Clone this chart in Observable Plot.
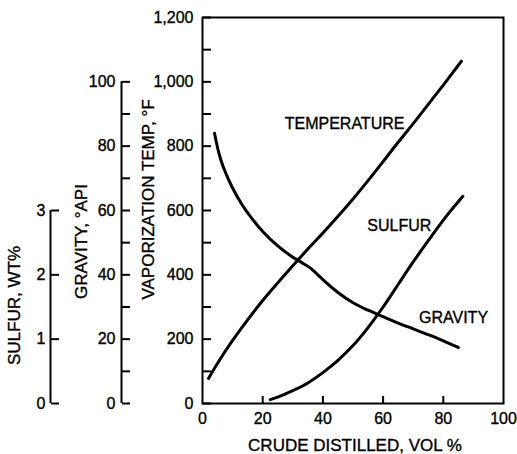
<!DOCTYPE html>
<html>
<head>
<meta charset="utf-8">
<script src="https://cdn.jsdelivr.net/npm/d3@7"></script>
<script src="https://cdn.jsdelivr.net/npm/@observablehq/plot@0.6"></script>
<style>
  html, body { margin: 0; padding: 0; background: #fff; }
  #chart svg { display: block; }
  #chart svg text { stroke: #000; stroke-width: 0.35px; }
</style>
</head>
<body>
<div id="chart"></div>
<script>
// ---- Axis ticks ----
const crudeTicks = [0, 20, 40, 60, 80, 100];
const crudeInnerTicks = [20, 40, 60, 80];
const tempTicks = [0, 200, 400, 600, 800, 1000, 1200];
const tempMinorTicks = [0, 100, 200, 300, 400, 500, 600, 700, 800, 900, 1000, 1100, 1200];
const gravityTicks = [0, 20, 40, 60, 80, 100];
const gravityMinorTicks = [0, 10, 20, 30, 40, 50, 60, 70, 80, 90, 100];
const sulfurTicks = [0, 1, 2, 3];

// ---- Series ----
const tempX = [2, 5, 10, 15, 20, 25, 30, 35, 40, 45, 50, 55, 60, 65, 70, 75, 80, 86];
const tempF = [78, 125, 196, 260, 320, 375, 428, 480, 530, 582, 636, 693, 752, 812, 870, 930, 990, 1064];

const gravityX = [4, 5, 6, 8, 10, 13, 16, 20, 25, 30, 33, 36, 38, 40, 45, 50, 55, 60, 65, 70, 75, 80, 85];
const gravityAPI = [84, 79.5, 76, 71, 67, 62, 58, 53.5, 49, 45.5, 43.8, 42, 40.3, 38.5, 34.5, 31.3, 29, 27, 25, 23.2, 21.4, 19.5, 17.4];

const sulfurX = [22.5, 25, 30, 35, 40, 45, 50, 55, 60, 65, 70, 75, 80, 86.5];
const sulfurWt = [0.06, 0.1, 0.2, 0.32, 0.48, 0.67, 0.9, 1.18, 1.5, 1.85, 2.2, 2.53, 2.85, 3.22];

// ---- Curve labels ----
const curveLabels = ["TEMPERATURE", "SULFUR", "GRAVITY"];
const curveLabelX = [47.2, 65.4, 83.4];
const curveLabelTemp = [870, 553, 267];

// ---- Scale relations between the stacked left axes ----
const gravityToF = 10;   // 100 °API sits at 1,000 °F
const sulfurToF = 200;   // 3 wt% sits at 600 °F

const toRows = (xs, ys, k) => xs.map((x, i) => ({x, y: ys[i] * k}));

const font = "'Liberation Sans', Arial, Helvetica, sans-serif";
const W = 517, H = 454;
const mL = 202, mR = 14, mT = 17, mB = 51;
const frameW = W - mL - mR;
const frameH = H - mT - mB;
const gravityDx = -81;
const sulfurDx = -152;

const chart = Plot.plot({
  width: W,
  height: H,
  marginLeft: mL,
  marginRight: mR,
  marginTop: mT,
  marginBottom: mB,
  style: {fontFamily: font, fontSize: "16px", background: "#fff", color: "#000"},
  x: {domain: [0, 100]},
  y: {domain: [0, 1200]},
  marks: [
    Plot.frame({strokeWidth: 2}),
    // x axis labels
    Plot.axisX(crudeTicks, {anchor: "bottom", tickSize: 0, tickPadding: 9, label: null, fontSize: 16}),
    // x inner ticks (upward from bottom)
    Plot.axisX(crudeInnerTicks, {anchor: "top", dy: frameH, tickSize: 8, strokeWidth: 2, fill: "none", label: null}),
    // temperature axis
    Plot.axisY(tempTicks, {anchor: "left", tickSize: 0, tickPadding: 9, tickFormat: d3.format(","), label: null, fontSize: 16}),
    Plot.axisY(tempMinorTicks, {anchor: "right", dx: -frameW, tickSize: 8, strokeWidth: 2, fill: "none", label: null}),
    // gravity axis
    Plot.ruleX([0], {y1: gravityTicks[0] * gravityToF, y2: gravityTicks[gravityTicks.length - 1] * gravityToF, dx: gravityDx, strokeWidth: 2}),
    Plot.axisY(gravityTicks.map(d => d * gravityToF), {anchor: "left", dx: gravityDx, tickSize: 0, tickPadding: 6, tickFormat: d => d / gravityToF, label: null, fontSize: 16}),
    Plot.axisY(gravityMinorTicks.map(d => d * gravityToF), {anchor: "right", dx: gravityDx - frameW, tickSize: 8, strokeWidth: 2, fill: "none", label: null}),
    // sulfur axis
    Plot.ruleX([0], {y1: sulfurTicks[0] * sulfurToF, y2: sulfurTicks[sulfurTicks.length - 1] * sulfurToF, dx: sulfurDx, strokeWidth: 2}),
    Plot.axisY(sulfurTicks.map(d => d * sulfurToF), {anchor: "left", dx: sulfurDx, tickSize: 0, tickPadding: 5, tickFormat: d => d / sulfurToF, label: null, fontSize: 16}),
    Plot.axisY(sulfurTicks.map(d => d * sulfurToF), {anchor: "right", dx: sulfurDx - frameW, tickSize: 8, strokeWidth: 2, fill: "none", label: null}),
    // axis titles
    Plot.text(["VAPORIZATION TEMP, °F"], {frameAnchor: "left", rotate: -90, dx: -54, dy: -11, textAnchor: "middle", lineAnchor: "middle", fontSize: 17}),
    Plot.text(["GRAVITY, °API"], {frameAnchor: "left", rotate: -90, dx: -121, dy: 31, textAnchor: "middle", lineAnchor: "middle", fontSize: 17}),
    Plot.text(["SULFUR, WT%"], {frameAnchor: "left", rotate: -90, dx: -188, dy: 95, textAnchor: "middle", lineAnchor: "middle", fontSize: 17}),
    Plot.text(["CRUDE DISTILLED, VOL %"], {frameAnchor: "bottom", dx: 2, dy: 42, textAnchor: "middle", lineAnchor: "middle", fontSize: 17}),
    // curves
    Plot.line(toRows(tempX, tempF, 1), {x: "x", y: "y", curve: "monotone-x", stroke: "#000", strokeWidth: 3}),
    Plot.line(toRows(gravityX, gravityAPI, gravityToF), {x: "x", y: "y", curve: "monotone-x", stroke: "#000", strokeWidth: 3}),
    Plot.line(toRows(sulfurX, sulfurWt, sulfurToF), {x: "x", y: "y", curve: "monotone-x", stroke: "#000", strokeWidth: 3}),
    // curve labels
    Plot.text(curveLabels, {x: curveLabelX, y: curveLabelTemp, text: d => d, fontSize: 16, textAnchor: "middle", lineAnchor: "middle"})
  ]
});

document.getElementById("chart").appendChild(chart);
</script>
</body>
</html>
